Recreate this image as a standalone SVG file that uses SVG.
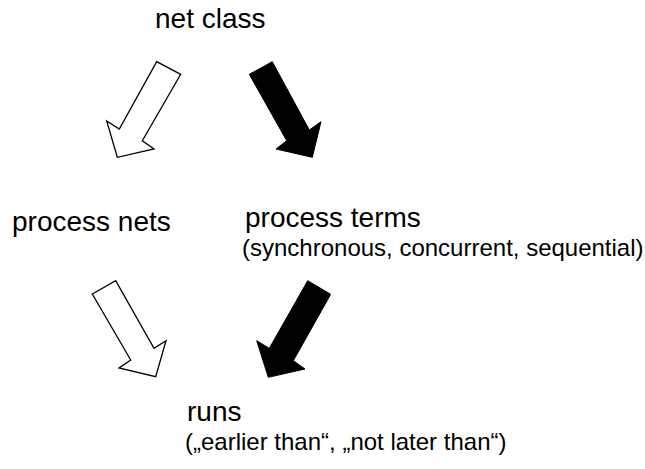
<svg xmlns="http://www.w3.org/2000/svg" width="645" height="469" viewBox="0 0 645 469">
  <style>
    .lbl { font-family: "Liberation Sans", Arial, sans-serif; font-size: 28px; fill: #000; }
    .sub { font-family: "Liberation Sans", Arial, sans-serif; font-size: 24px; fill: #000; }
    .open { fill: #fff; stroke: #000; stroke-width: 1.3; stroke-linejoin: miter; }
    .solid { fill: #000; stroke: #000; stroke-width: 1; }
  </style>
  <rect width="645" height="469" fill="#fff"/>
  <g id="net-class"><text class="lbl" x="155" y="28">net class</text></g>
  <g id="process-nets"><text class="lbl" x="12" y="231">process nets</text></g>
  <g id="process-terms">
    <text class="lbl" x="245" y="227">process terms</text>
    <text class="sub" x="242" y="256">(synchronous, concurrent, sequential)</text>
  </g>
  <g id="runs">
    <text class="lbl" x="187" y="421">runs</text>
    <text class="sub" x="185" y="450">(„earlier than“, „not later than“)</text>
  </g>
  <g id="connectors">
    <polygon class="open" points="156.7,61.7 180.7,74.3 142.3,140.7 154,149 117.3,157.3 106.7,121 119.3,129"/>
    <polygon class="solid" points="272.3,61.7 249.3,74.3 286.7,140.7 276,149 312.3,157.3 321,121.7 309.3,130"/>
    <polygon class="open" points="92.3,294 115.7,280.7 154,348.3 166,340.7 155.7,376.7 119,368 130.7,360"/>
    <polygon class="solid" points="307.7,280.7 330.7,294.3 293.3,360.7 305,369 268.3,377.3 256.7,340.7 269.3,348.3"/>
  </g>
</svg>
